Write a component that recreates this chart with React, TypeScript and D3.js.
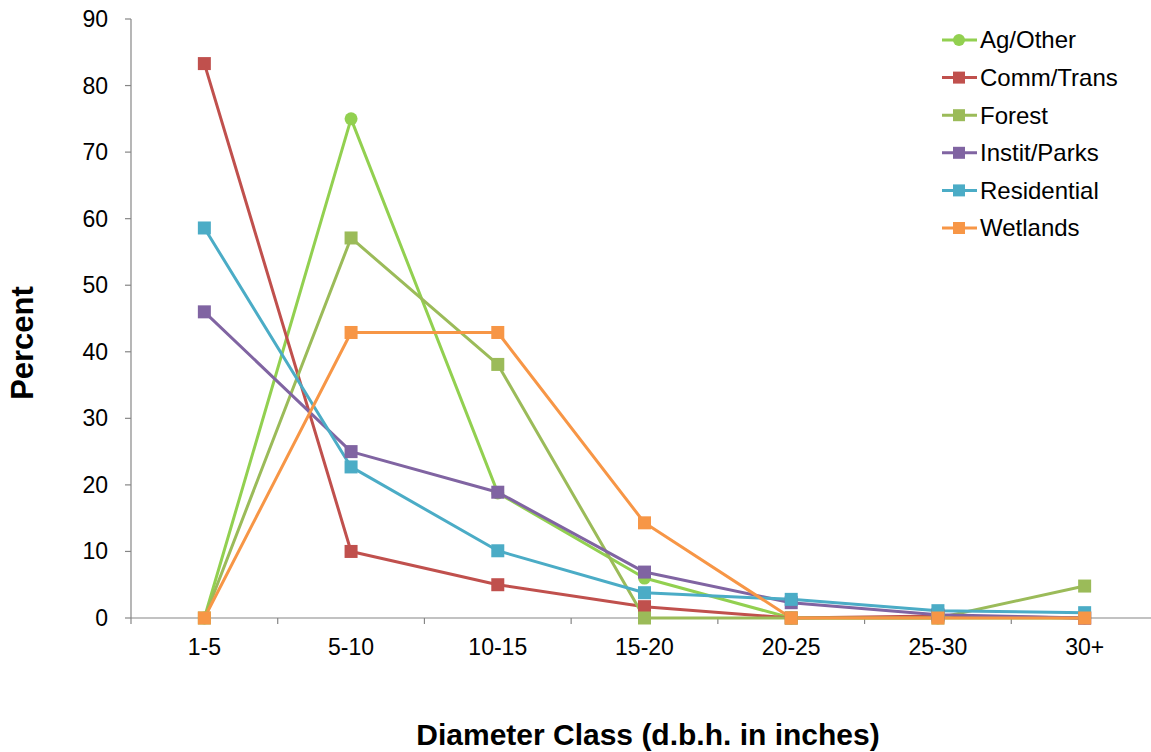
import React from "react";
import * as d3 from "d3";

const categories = ["1-5", "5-10", "10-15", "15-20", "20-25", "25-30", "30+"];
const yTicks = [0, 10, 20, 30, 40, 50, 60, 70, 80, 90];

const seriesNames = ["Ag/Other", "Comm/Trans", "Forest", "Instit/Parks", "Residential", "Wetlands"];
const agOther = [0, 75, 18.8, 6, 0, 0, 0];
const commTrans = [83.3, 10, 5, 1.7, 0, 0.3, 0];
const forest = [0, 57.1, 38.1, 0, 0, 0, 4.8];
const institParks = [46, 25, 18.9, 6.9, 2.3, 0.5, 0];
const residential = [58.6, 22.7, 10.1, 3.8, 2.8, 1.1, 0.8];
const wetlands = [0, 42.9, 42.9, 14.3, 0, 0, 0];
const seriesColors = ["#92D050", "#C0504D", "#9BBB59", "#8064A2", "#4BACC6", "#F79646"];
const seriesMarkers = ["circle", "square", "square", "square", "square", "square"];

const W = 1151;
const H = 752;
const left = 131;
const right = 1158;
const top = 19;
const bottom = 618;
const font = "Liberation Sans, Arial, sans-serif";

export default function App() {
  const values = [agOther, commTrans, forest, institParks, residential, wetlands];
  const x = d3.scaleBand<string>().domain(categories).range([left, right]);
  const y = d3.scaleLinear().domain([0, 90]).range([bottom, top]);
  const cx = (c: string) => (x(c) as number) + x.bandwidth() / 2;
  const line = d3
    .line<number>()
    .x((_, i) => cx(categories[i]))
    .y((v) => y(v));

  const axisColor = "#868686";
  const order = [0, 1, 2, 3, 4, 5];

  return (
    <svg
      width={W}
      height={H}
      style={{ position: "absolute", left: 0, top: 0, background: "#fff" }}
    >
      <rect x={0} y={0} width={W} height={H} fill="#fff" />
      {/* y axis */}
      <line x1={left} x2={left} y1={top} y2={bottom} stroke={axisColor} strokeWidth={1.2} />
      {yTicks.map((t) => (
        <g key={t}>
          <line x1={left - 6} x2={left} y1={y(t)} y2={y(t)} stroke={axisColor} strokeWidth={1.2} />
          <text
            x={108}
            y={y(t)}
            dy="0.35em"
            textAnchor="end"
            fontFamily={font}
            fontSize={23}
            fill="#000"
          >
            {t}
          </text>
        </g>
      ))}
      {/* x axis */}
      <line x1={left} x2={right} y1={bottom} y2={bottom} stroke={axisColor} strokeWidth={1.2} />
      {categories.map((c) => (
        <g key={c}>
          <line
            x1={x(c) as number}
            x2={x(c) as number}
            y1={bottom}
            y2={bottom + 6}
            stroke={axisColor}
            strokeWidth={1.2}
          />
          <text
            x={cx(c)}
            y={655}
            textAnchor="middle"
            fontFamily={font}
            fontSize={23}
            fill="#000"
          >
            {c}
          </text>
        </g>
      ))}

      {/* series lines */}
      {order.map((s) => (
        <path
          key={"l" + s}
          d={line(values[s]) as string}
          fill="none"
          stroke={seriesColors[s]}
          strokeWidth={3}
          strokeLinejoin="round"
        />
      ))}
      {/* markers */}
      {order.map((s) => (
        <g key={"m" + s}>
          {values[s].map((v, i) =>
            seriesMarkers[s] === "circle" ? (
              <circle key={i} cx={cx(categories[i])} cy={y(v)} r={6.5} fill={seriesColors[s]} />
            ) : (
              <rect
                key={i}
                x={cx(categories[i]) - 6.5}
                y={y(v) - 6.5}
                width={13}
                height={13}
                fill={seriesColors[s]}
              />
            )
          )}
        </g>
      ))}

      {/* legend */}
      {seriesNames.map((n, i) => {
        const ly = 40 + i * 37.6;
        return (
          <g key={n}>
            <line x1={942} x2={977} y1={ly} y2={ly} stroke={seriesColors[i]} strokeWidth={3} />
            {seriesMarkers[i] === "circle" ? (
              <circle cx={959} cy={ly} r={6} fill={seriesColors[i]} />
            ) : (
              <rect x={953} y={ly - 6} width={12} height={12} fill={seriesColors[i]} />
            )}
            <text x={980} y={ly} dy="0.35em" fontFamily={font} fontSize={24} fill="#000">
              {n}
            </text>
          </g>
        );
      })}

      {/* axis titles */}
      <text
        transform={`translate(33, ${343}) rotate(-90)`}
        textAnchor="middle"
        fontFamily={font}
        fontSize={31}
        fontWeight="bold"
        fill="#000"
      >
        Percent
      </text>
      <text
        x={648}
        y={745}
        textAnchor="middle"
        fontFamily={font}
        fontSize={30}
        fontWeight="bold"
        fill="#000"
      >
        Diameter Class (d.b.h. in inches)
      </text>
    </svg>
  );
}
